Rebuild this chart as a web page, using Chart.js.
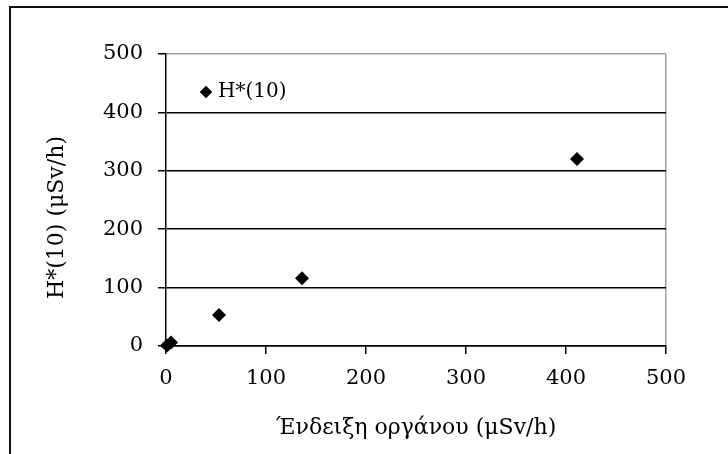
<!DOCTYPE html>
<html>
<head>
<meta charset="utf-8">
<script src="https://cdn.jsdelivr.net/npm/chart.js@4/dist/chart.umd.min.js"></script>
<style>
  html, body { margin: 0; padding: 0; background: #fff; }
  #wrap { position: relative; width: 728px; height: 454px; }
  #frame { position: absolute; left: 9px; top: 6px; right: -2px; bottom: -2px;
           border-left: 2px solid #111; border-top: 2px solid #111; }
</style>
</head>
<body>
<div id="wrap">
  <div id="frame"></div>
  <canvas id="doseChart" width="728" height="454"></canvas>
</div>
<script>
const seriesName = 'H*(10)';
const readings = [1, 5, 53, 136, 411];     // Ένδειξη οργάνου (μSv/h)
const doseRates = [1, 6, 53, 116, 320];    // H*(10) (μSv/h)
const axisTicks = [0, 100, 200, 300, 400, 500];

document.addEventListener('DOMContentLoaded', function() {
    const ctx = document.getElementById('doseChart').getContext('2d');
    const serif = 'DejaVu Serif';

    const points = readings.map(function(x, i) {
        return { x: x, y: doseRates[i] };
    });

    const edgeColor = function(c) {
        return c.tick && c.tick.value === 500 ? '#a0a0a0' : '#000';
    };

    // legend sits inside the plot, top left
    const insideLegend = {
        id: 'insideLegend',
        afterDraw: function(chart) {
            const area = chart.chartArea;
            const c = chart.ctx;
            const x = area.left + 40;
            const y = area.top + 38;
            c.save();
            c.fillStyle = '#000';
            Chart.helpers.drawPoint(c, { pointStyle: 'rectRot', radius: 6, borderWidth: 0 }, x, y);
            c.fill();
            c.font = '20px "' + serif + '"';
            c.textBaseline = 'middle';
            c.textAlign = 'left';
            c.fillText(chart.data.datasets[0].label, x + 12, y);
            c.restore();
        }
    };

    const config = {
        type: 'scatter',
        data: {
            datasets: [{
                label: seriesName,
                data: points,
                pointStyle: 'rectRot',
                pointRadius: 7,
                pointHoverRadius: 7,
                backgroundColor: '#000',
                borderColor: '#000',
                borderWidth: 0,
                clip: false
            }]
        },
        options: {
            responsive: false,
            animation: false,
            layout: {
                padding: { left: 10, right: 62, top: 54, bottom: 0 }
            },
            plugins: {
                tooltip: { enabled: false },
                legend: { display: false }
            },
            scales: {
                x: {
                    type: 'linear',
                    min: 0,
                    max: 500,
                    afterBuildTicks: function(scale) {
                        scale.ticks = axisTicks.map(function(v) { return { value: v }; });
                    },
                    afterFit: function(scale) { scale.height = 108; },
                    grid: {
                        color: function(c) {
                            return c.tick && c.tick.value === 500 ? '#a0a0a0' : 'rgba(0,0,0,0)';
                        },
                        tickColor: '#000',
                        tickLength: 8,
                        lineWidth: 1.5
                    },
                    border: { color: '#000', width: 1.5 },
                    ticks: {
                        color: '#000',
                        padding: 12,
                        maxRotation: 0,
                        font: { family: serif, size: 21 }
                    },
                    title: {
                        display: true,
                        text: 'Ένδειξη οργάνου (μSv/h)',
                        color: '#000',
                        padding: { top: 0, bottom: 13 },
                        font: { family: serif, size: 22 }
                    }
                },
                y: {
                    type: 'linear',
                    min: 0,
                    max: 500,
                    afterBuildTicks: function(scale) {
                        scale.ticks = axisTicks.map(function(v) { return { value: v }; });
                    },
                    afterFit: function(scale) { scale.width = 156; },
                    grid: {
                        color: edgeColor,
                        tickColor: '#000',
                        tickLength: 8,
                        lineWidth: 1.5
                    },
                    border: { color: '#000', width: 1.5 },
                    ticks: {
                        color: '#000',
                        padding: 15,
                        font: { family: serif, size: 21 }
                    },
                    title: {
                        display: true,
                        text: 'H*(10) (μSv/h)     ',
                        color: '#000',
                        padding: { top: 34, bottom: 0 },
                        font: { family: serif, size: 22 }
                    }
                }
            }
        },
        plugins: [insideLegend]
    };

    new Chart(ctx, config);
});
</script>
</body>
</html>
